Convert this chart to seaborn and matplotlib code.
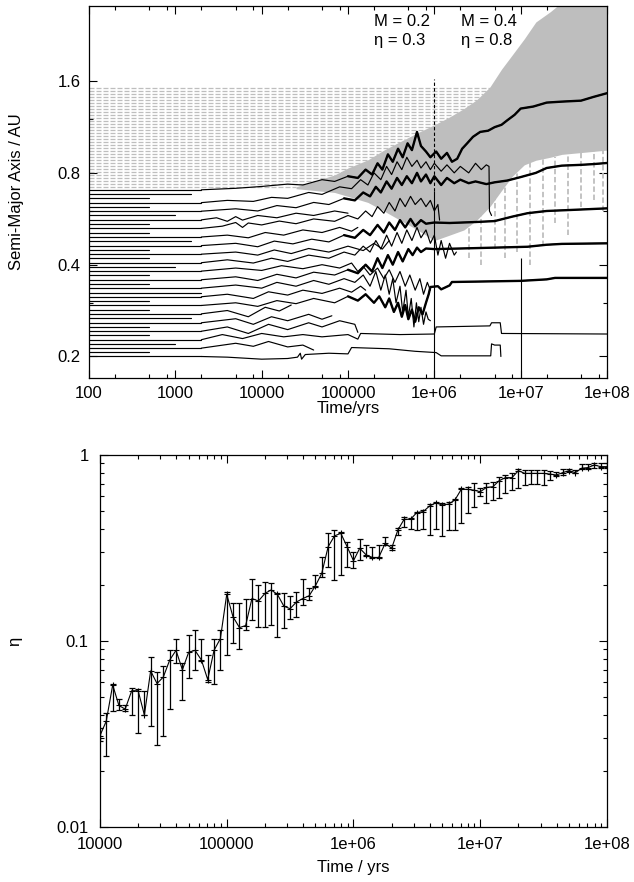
import numpy as np
import pandas as pd
import matplotlib
matplotlib.use('Agg')
import matplotlib.pyplot as plt
import matplotlib.ticker as mticker
import seaborn as sns

# ---------------- top panel: semi-major axis tracks ----------------
# starting semi-major axes of the inner (black) bodies and when their flat start ends
init_a = [0.200, 0.207, 0.213, 0.220, 0.227, 0.235, 0.242, 0.250, 0.258, 0.267,
          0.276, 0.285, 0.294, 0.304, 0.314, 0.324, 0.335, 0.346, 0.357, 0.369,
          0.381, 0.393, 0.406, 0.420, 0.433, 0.448, 0.462, 0.478, 0.493, 0.510,
          0.526, 0.544, 0.561, 0.580, 0.599, 0.619, 0.639, 0.660, 0.682, 0.704]
init_end = [2000, 500, 2000, 1000, 2000, 500, 2000, 500, 2000, 1500,
            2000, 500, 2000, 500, 2000, 2000, 2000, 500, 2000, 500,
            2000, 1000, 2000, 500, 2000, 500, 2000, 1500, 2000, 500,
            2000, 500, 2000, 1000, 2000, 500, 2000, 500, 1500, 2000]

# outer (grey, dashed) bodies and when they vanish into the grey cloud
gray_a = [0.720, 0.737, 0.753, 0.771, 0.788, 0.806, 0.825, 0.844, 0.863, 0.883,
          0.903, 0.924, 0.945, 0.967, 0.989, 1.012, 1.035, 1.059, 1.083, 1.108,
          1.133, 1.159, 1.186, 1.213, 1.241, 1.270, 1.299, 1.329, 1.359, 1.390,
          1.422, 1.455, 1.488, 1.522]
gray_end = [2.5e4, 3.3e4, 4.2e4, 5.5e4, 7e4, 9e4, 1.05e5, 1.25e5, 1.45e5, 1.7e5,
            2e5, 2.25e5, 2.55e5, 2.9e5, 3.4e5, 4e5, 4.6e5, 5.4e5, 6.4e5, 7.7e5,
            9e5, 1.05e6, 1.25e6, 1.45e6, 1.65e6, 1.9e6, 2.2e6, 2.5e6, 2.8e6, 3.1e6,
            3.4e6, 3.7e6, 4e6, 4.4e6]

# envelope of the scattered grey bodies
cloud_t = [2.5e4, 4.2e4, 7e4, 1e5, 1.7e5, 2.6e5, 4e5, 6.4e5, 1e6, 1.5e6,
           2.2e6, 3.1e6, 4.4e6, 6e6, 8e6, 1.1e7, 1.5e7, 2.2e7, 3e7, 1e8]
cloud_hi = [0.72, 0.753, 0.788, 0.83, 0.883, 0.95, 1.012, 1.083, 1.15, 1.22,
            1.30, 1.39, 1.53, 1.75, 1.95, 2.2, 2.5, 2.7, 2.9, 2.9]
cloud_lo = [0.71, 0.70, 0.69, 0.67, 0.64, 0.60, 0.56, 0.52, 0.48, 0.50,
            0.52, 0.56, 0.62, 0.70, 0.78, 0.85, 0.88, 0.90, 0.92, 0.95]
spike_t = [2.5e6, 3.5e6, 5e6, 6.5e6, 9e6, 1.3e7, 1.8e7, 2.5e7, 3.5e7, 5e7, 7e7, 9e7]
spike_lo = [0.42, 0.40, 0.45, 0.42, 0.44, 0.40, 0.46, 0.55, 0.50, 0.62, 0.65, 0.60]
spike_hi = [0.60, 0.65, 0.70, 0.80, 0.85, 0.90, 0.90, 0.90, 0.95, 0.95, 1.00, 1.00]

# ejections
eject_t = [1e6, 1e7]
eject_top = [0.70, 0.42]

# surviving black bodies, (time, a) waypoints
track_s00 = [(2e3, 0.200), (4e3, 0.199), (1e4, 0.196), (2e4, 0.197), (2.6e4, 0.199), (2.8e4, 0.205),
             (2.9e4, 0.196), (3.2e4, 0.203), (6e4, 0.205), (1e5, 0.204), (1.1e5, 0.214), (3e5, 0.212),
             (6e5, 0.208), (1.05e6, 0.206), (1.2e6, 0.201), (4.5e6, 0.201), (4.6e6, 0.22), (5e6, 0.218),
             (5.8e6, 0.218), (5.9e6, 0.200)]
track_s01 = [(2e3, 0.213), (5e3, 0.221), (8e3, 0.216), (1.2e4, 0.224), (2e4, 0.215), (3e4, 0.218), (4e4, 0.210)]
track_s02 = [(2e3, 0.227), (3.5e3, 0.236), (6e3, 0.229), (1e4, 0.238), (1.8e4, 0.232), (3e4, 0.236),
             (5e4, 0.232), (1e5, 0.236), (1.3e5, 0.228), (1.4e5, 0.238), (4e5, 0.236), (1e6, 0.237),
             (1.05e6, 0.250), (4.4e6, 0.252), (4.6e6, 0.258), (5.8e6, 0.258), (6e6, 0.238), (1e8, 0.237)]
track_s03 = [(2e3, 0.242), (4e3, 0.250), (7e3, 0.238), (1.2e4, 0.255), (2e4, 0.245), (3.5e4, 0.258),
             (5e4, 0.250), (8e4, 0.262), (1.2e5, 0.255), (1.3e5, 0.240)]
track_s04 = [(2e3, 0.258), (5e3, 0.266), (8e3, 0.255), (1.3e4, 0.270), (2e4, 0.262), (3.5e4, 0.275),
             (5e4, 0.265), (6.5e4, 0.272)]
track_s05 = [(2e3, 0.276), (4e3, 0.283), (7e3, 0.270), (1.1e4, 0.290), (1.6e4, 0.282), (2.2e4, 0.295)]
track_s06 = [(2e3, 0.294), (5e3, 0.300), (9e3, 0.292), (1.5e4, 0.305), (2.5e4, 0.298), (4e4, 0.310),
             (7e4, 0.300), (1e5, 0.315), (1.3e5, 0.305), (1.6e5, 0.320), (2e5, 0.300), (2.3e5, 0.315),
             (2.7e5, 0.290), (3e5, 0.310), (3.4e5, 0.280), (3.8e5, 0.300), (4.2e5, 0.270), (4.6e5, 0.295),
             (5e5, 0.265), (5.5e5, 0.285), (6e5, 0.260), (6.6e5, 0.290), (7.3e5, 0.275), (8e5, 0.300),
             (8.6e5, 0.320), (9e5, 0.338), (1.1e6, 0.340), (1.2e6, 0.332), (1.5e6, 0.342), (1.6e6, 0.351),
             (3e6, 0.352), (1e7, 0.354), (2e7, 0.358), (2.5e7, 0.362), (1e8, 0.362)]
track_s07 = [(2e3, 0.314), (4e3, 0.320), (8e3, 0.310), (1.2e4, 0.326), (2e4, 0.318), (3e4, 0.330),
             (5e4, 0.322), (8e4, 0.335), (1.1e5, 0.325), (1.4e5, 0.340), (1.6e5, 0.330)]
track_s08 = [(2e3, 0.335), (5e3, 0.343), (1e4, 0.335), (1.5e4, 0.350), (2.5e4, 0.340), (4e4, 0.355),
             (6e4, 0.345), (9e4, 0.360), (1.2e5, 0.350), (1.5e5, 0.370), (1.8e5, 0.340), (2.1e5, 0.380),
             (2.4e5, 0.330), (2.7e5, 0.370), (3e5, 0.320), (3.3e5, 0.360), (3.6e5, 0.300), (4e5, 0.340),
             (4.3e5, 0.280), (4.7e5, 0.330), (5e5, 0.270), (5.4e5, 0.310), (5.8e5, 0.250), (6.2e5, 0.300),
             (6.6e5, 0.260), (7e5, 0.290), (7.5e5, 0.255), (8e5, 0.280), (8.5e5, 0.265), (9e5, 0.262)]
track_s09 = [(2e3, 0.357), (5e3, 0.365), (9e3, 0.355), (1.5e4, 0.372), (2.5e4, 0.362), (4e4, 0.378),
             (7e4, 0.370), (1e5, 0.385), (1.3e5, 0.375), (1.6e5, 0.400), (1.9e5, 0.380), (2.2e5, 0.420),
             (2.5e5, 0.390), (2.9e5, 0.430), (3.3e5, 0.400), (3.8e5, 0.440), (4.3e5, 0.410), (5e5, 0.450),
             (5.6e5, 0.430), (6.3e5, 0.455), (7e5, 0.440), (8e5, 0.452), (1e6, 0.450), (2e6, 0.452),
             (5e6, 0.455), (1.2e7, 0.458), (2e7, 0.465), (3e7, 0.468), (1e8, 0.470)]
track_s10 = [(2e3, 0.381), (5e3, 0.390), (1e4, 0.383), (1.7e4, 0.397), (3e4, 0.388), (5e4, 0.400),
             (8e4, 0.390), (1.1e5, 0.405), (1.3e5, 0.380), (1.5e5, 0.395), (1.8e5, 0.370), (2.2e5, 0.390),
             (2.6e5, 0.360), (3e5, 0.385), (3.5e5, 0.350), (4e5, 0.380), (4.6e5, 0.340), (5.2e5, 0.370),
             (6e5, 0.330), (6.8e5, 0.360), (7.5e5, 0.320), (8.3e5, 0.350), (9e5, 0.330)]
track_s11 = [(2e3, 0.406), (4e3, 0.415), (8e3, 0.405), (1.3e4, 0.420), (2e4, 0.410), (3.5e4, 0.430),
             (6e4, 0.420), (9e4, 0.440), (1.2e5, 0.430), (1.5e5, 0.460), (1.8e5, 0.440), (2.1e5, 0.480),
             (2.4e5, 0.450), (2.8e5, 0.500), (3.2e5, 0.460), (3.7e5, 0.510), (4.2e5, 0.470), (4.8e5, 0.520),
             (5.5e5, 0.480), (6.3e5, 0.530), (7e5, 0.490), (8e5, 0.520), (9e5, 0.470), (1e6, 0.500),
             (1.1e6, 0.430), (1.2e6, 0.480), (1.35e6, 0.420), (1.5e6, 0.470), (1.7e6, 0.430), (1.8e6, 0.440)]
track_s12 = [(2e3, 0.433), (5e3, 0.440), (9e3, 0.430), (1.4e4, 0.447), (2.2e4, 0.435), (3.5e4, 0.452),
             (6e4, 0.440), (1e5, 0.460), (1.5e5, 0.445), (2e5, 0.470), (2.5e5, 0.450), (3e5, 0.480)]
track_s13 = [(2e3, 0.462), (5e3, 0.470), (9e3, 0.458), (1.4e4, 0.478), (2.3e4, 0.468), (3.8e4, 0.485),
             (6e4, 0.475), (9e4, 0.500), (1.2e5, 0.490), (1.5e5, 0.520), (1.8e5, 0.500), (2.2e5, 0.540),
             (2.6e5, 0.510), (3e5, 0.550), (3.5e5, 0.520), (4e5, 0.560), (4.6e5, 0.530), (5.3e5, 0.565),
             (6e5, 0.535), (7e5, 0.560), (8e5, 0.545), (1e6, 0.550), (1.5e6, 0.548), (3e6, 0.552),
             (5e6, 0.556), (8e6, 0.575), (1.2e7, 0.590), (2e7, 0.600), (4e7, 0.605), (1e8, 0.612)]
track_s14 = [(2e3, 0.493), (4e3, 0.500), (7e3, 0.490), (1.1e4, 0.510), (1.8e4, 0.500), (3e4, 0.520),
             (5e4, 0.510), (8e4, 0.530), (1.1e5, 0.515), (1.3e5, 0.530)]
track_s15 = [(2e3, 0.526), (3.5e3, 0.535), (5e3, 0.550), (6e3, 0.530), (7e3, 0.548), (1e4, 0.540),
             (1.6e4, 0.556), (2.5e4, 0.545), (4e4, 0.565), (7e4, 0.555), (1e5, 0.580), (1.3e5, 0.565),
             (1.6e5, 0.600), (1.9e5, 0.575), (2.2e5, 0.620), (2.6e5, 0.590), (3e5, 0.640), (3.5e5, 0.600),
             (4e5, 0.660), (4.6e5, 0.620), (5.3e5, 0.670), (6e5, 0.630), (7e5, 0.660), (8e5, 0.620),
             (9e5, 0.650), (1e6, 0.600), (1.1e6, 0.630), (1.15e6, 0.560)]
track_s16 = [(2e3, 0.561), (3e3, 0.570), (4e3, 0.555), (5e3, 0.575), (6e3, 0.560), (9e3, 0.580),
             (1.5e4, 0.570), (2.5e4, 0.590), (4e4, 0.580), (7e4, 0.600), (1e5, 0.590)]
track_s17 = [(2e3, 0.599), (5e3, 0.610), (9e3, 0.600), (1.5e4, 0.625), (2.5e4, 0.615), (4e4, 0.640),
             (6e4, 0.630), (9e4, 0.660), (1.2e5, 0.650), (1.5e5, 0.690), (1.8e5, 0.670), (2.1e5, 0.720),
             (2.4e5, 0.690), (2.8e5, 0.750), (3.2e5, 0.710), (3.7e5, 0.770), (4.2e5, 0.730), (4.8e5, 0.780),
             (5.5e5, 0.740), (6.3e5, 0.800), (7e5, 0.750), (8e5, 0.790), (9e5, 0.740), (1e6, 0.780),
             (1.2e6, 0.730), (1.4e6, 0.770), (1.7e6, 0.740), (2e6, 0.760), (2.5e6, 0.740), (3e6, 0.750),
             (4e6, 0.735), (5e6, 0.745), (7e6, 0.755), (1e7, 0.775), (1.5e7, 0.800), (2e7, 0.830),
             (3e7, 0.845), (5e7, 0.850), (7e7, 0.855), (1e8, 0.862)]
track_s18 = [(2e3, 0.639), (4e3, 0.650), (8e3, 0.645), (1.3e4, 0.665), (2e4, 0.660), (3.5e4, 0.690),
             (5e4, 0.680), (8e4, 0.720), (1.1e5, 0.710), (1.4e5, 0.760), (1.7e5, 0.730), (2e5, 0.800),
             (2.4e5, 0.760), (2.8e5, 0.840), (3.2e5, 0.790), (3.7e5, 0.870), (4.2e5, 0.820), (4.8e5, 0.900),
             (5.5e5, 0.840), (6.3e5, 0.880), (7e5, 0.830), (8e5, 0.870), (9e5, 0.820), (1e6, 0.860),
             (1.2e6, 0.810), (1.4e6, 0.850), (1.7e6, 0.800), (2e6, 0.840), (2.5e6, 0.800), (3e6, 0.860),
             (3.5e6, 0.820), (4e6, 0.850), (4.3e6, 0.840), (4.35e6, 0.600), (4.6e6, 0.580)]
track_s19 = [(2e3, 0.704), (5e3, 0.712), (1e4, 0.722), (2e4, 0.735), (3e4, 0.730), (5e4, 0.760),
             (7e4, 0.750), (1e5, 0.780), (1.3e5, 0.770), (1.6e5, 0.820), (1.9e5, 0.790), (2.2e5, 0.860),
             (2.5e5, 0.820), (2.9e5, 0.920), (3.3e5, 0.870), (3.8e5, 0.960), (4.3e5, 0.900), (4.9e5, 1.000),
             (5.5e5, 0.950), (6.3e5, 1.090), (7e5, 0.980), (8e5, 0.940), (9e5, 0.900), (1.05e6, 0.940),
             (1.2e6, 0.890), (1.4e6, 0.930), (1.6e6, 0.870), (1.84e6, 0.890), (2.1e6, 0.960), (2.4e6, 1.000),
             (2.8e6, 1.050), (3.4e6, 1.090), (4.2e6, 1.100), (5e6, 1.130), (6e6, 1.150), (7e6, 1.190),
             (8.5e6, 1.240), (1e7, 1.300), (1.4e7, 1.320), (2e7, 1.360), (3e7, 1.370), (5e7, 1.380),
             (7e7, 1.420), (1e8, 1.460)]

tracks = [track_s00, track_s01, track_s02, track_s03, track_s04, track_s05, track_s06, track_s07,
          track_s08, track_s09, track_s10, track_s11, track_s12, track_s13, track_s14, track_s15,
          track_s16, track_s17, track_s18, track_s19]
thick_ids = [6, 9, 13, 17, 19]

top_xticks = [1e2, 1e3, 1e4, 1e5, 1e6, 1e7, 1e8]
top_xlabels = ['100', '1000', '10000', '100000', '1e+06', '1e+07', '1e+08']
top_yticks = [0.2, 0.4, 0.8, 1.6]
top_ylabels = ['0.2', '0.4', '0.8', '1.6']

# ---------------- bottom panel: eta(t) with error bars ----------------
time_yrs = [1.00e4, 1.12e4, 1.26e4, 1.41e4, 1.58e4, 1.78e4, 2.00e4, 2.24e4, 2.51e4, 2.82e4,
            3.16e4, 3.55e4, 3.98e4, 4.47e4, 5.01e4, 5.62e4, 6.31e4, 7.08e4, 7.94e4, 8.91e4,
            1.00e5, 1.12e5, 1.26e5, 1.41e5, 1.58e5, 1.78e5, 2.00e5, 2.24e5, 2.51e5, 2.82e5,
            3.16e5, 3.55e5, 3.98e5, 4.47e5, 5.01e5, 5.62e5, 6.31e5, 7.08e5, 7.94e5, 8.91e5,
            1.00e6, 1.12e6, 1.26e6, 1.41e6, 1.58e6, 1.78e6, 2.00e6, 2.24e6, 2.51e6, 2.82e6,
            3.16e6, 3.55e6, 3.98e6, 4.47e6, 5.01e6, 5.62e6, 6.31e6, 7.08e6, 7.94e6, 8.91e6,
            1.00e7, 1.12e7, 1.26e7, 1.41e7, 1.58e7, 1.78e7, 2.00e7, 2.24e7, 2.51e7, 2.82e7,
            3.16e7, 3.55e7, 3.98e7, 4.47e7, 5.01e7, 5.62e7, 6.31e7, 7.08e7, 7.94e7, 8.91e7,
            1.00e8]
eta = [0.031, 0.037, 0.058, 0.045, 0.043, 0.054, 0.054, 0.040, 0.069, 0.059,
       0.064, 0.079, 0.089, 0.070, 0.087, 0.089, 0.079, 0.062, 0.089, 0.103,
       0.178, 0.135, 0.118, 0.121, 0.169, 0.164, 0.180, 0.188, 0.178, 0.154,
       0.149, 0.162, 0.169, 0.175, 0.198, 0.231, 0.321, 0.367, 0.379, 0.321,
       0.270, 0.315, 0.290, 0.281, 0.281, 0.335, 0.315, 0.395, 0.451, 0.451,
       0.490, 0.496, 0.531, 0.553, 0.538, 0.544, 0.572, 0.653, 0.653, 0.647,
       0.634, 0.669, 0.675, 0.727, 0.755, 0.755, 0.823, 0.796, 0.796, 0.796,
       0.796, 0.789, 0.780, 0.803, 0.823, 0.803, 0.848, 0.855, 0.883, 0.865,
       0.865]
eta_lo = [0.029, 0.024, 0.042, 0.0425, 0.042, 0.040, 0.032, 0.040, 0.035, 0.0275,
          0.031, 0.043, 0.076, 0.048, 0.063, 0.070, 0.078, 0.060, 0.059, 0.070,
          0.084, 0.097, 0.091, 0.114, 0.130, 0.119, 0.119, 0.122, 0.105, 0.117,
          0.132, 0.135, 0.156, 0.165, 0.196, 0.221, 0.251, 0.213, 0.226, 0.251,
          0.246, 0.272, 0.285, 0.278, 0.278, 0.328, 0.308, 0.371, 0.411, 0.398,
          0.395, 0.398, 0.371, 0.398, 0.366, 0.395, 0.395, 0.433, 0.485, 0.527,
          0.601, 0.549, 0.572, 0.584, 0.622, 0.647, 0.661, 0.689, 0.695, 0.695,
          0.689, 0.733, 0.771, 0.780, 0.813, 0.796, 0.837, 0.837, 0.848, 0.848,
          0.848]
eta_hi = [0.034, 0.041, 0.059, 0.0485, 0.045, 0.056, 0.055, 0.054, 0.082, 0.068,
          0.073, 0.089, 0.103, 0.076, 0.108, 0.115, 0.102, 0.084, 0.102, 0.115,
          0.184, 0.160, 0.160, 0.169, 0.214, 0.200, 0.208, 0.206, 0.180, 0.180,
          0.175, 0.184, 0.214, 0.192, 0.226, 0.284, 0.382, 0.395, 0.386, 0.342,
          0.302, 0.352, 0.328, 0.321, 0.328, 0.364, 0.328, 0.403, 0.462, 0.456,
          0.492, 0.506, 0.544, 0.561, 0.549, 0.561, 0.577, 0.661, 0.669, 0.703,
          0.661, 0.703, 0.718, 0.758, 0.780, 0.796, 0.837, 0.830, 0.830, 0.830,
          0.830, 0.823, 0.813, 0.837, 0.837, 0.830, 0.894, 0.894, 0.909, 0.909,
          0.909]
bot_xticks = [1e4, 1e5, 1e6, 1e7, 1e8]
bot_xlabels = ['10000', '100000', '1e+06', '1e+07', '1e+08']
bot_yticks = [0.01, 0.1, 1]
bot_ylabels = ['0.01', '0.1', '1']

# ---------------- style ----------------
sns.set_theme(style='ticks')
plt.rcParams['font.family'] = ['Liberation Sans', 'DejaVu Sans']
plt.rcParams['axes.edgecolor'] = 'black'
plt.rcParams['axes.labelcolor'] = 'black'
plt.rcParams['text.color'] = 'black'
plt.rcParams['xtick.color'] = 'black'
plt.rcParams['ytick.color'] = 'black'
plt.rcParams['axes.linewidth'] = 0.9
grey = '#bebebe'
fs = 12

fig = plt.figure(figsize=(6.34, 8.82), dpi=100)
ax1 = fig.add_axes([0.1404, 0.5714, 0.8170, 0.4218])
ax2 = fig.add_axes([0.1577, 0.0624, 0.7997, 0.4218])

# ---- top ----
ax1.set_xscale('log')
ax1.set_yscale('log')

rows = []
for i, (a0, te) in enumerate(zip(gray_a, gray_end)):
    rows += [(i, 100, a0), (i, te, a0)]
gray_df = pd.DataFrame(rows, columns=['body', 't', 'a'])

rows = []
for i, (a0, te) in enumerate(zip(init_a, init_end)):
    rows += [(i, 100, a0), (i, te, a0)]
early_df = pd.DataFrame(rows, columns=['body', 't', 'a'])

rows = []
for i, tr in enumerate(tracks):
    for t, a in tr:
        rows.append((i, t, a, i in thick_ids))
trk_df = pd.DataFrame(rows, columns=['body', 't', 'a', 'thick'])
thick_df = trk_df[trk_df['thick'] & (trk_df['t'] >= 8e4)]

ax1.fill_between(cloud_t, cloud_lo, cloud_hi, color=grey, lw=0, zorder=1)
sns.lineplot(data=gray_df, x='t', y='a', units='body', estimator=None, sort=False,
             color=grey, lw=0.9, linestyle=(0, (4, 1.6)), ax=ax1, zorder=1.5)
ax1.vlines(spike_t, spike_lo, spike_hi, colors=grey, lw=1.3, linestyles=(0, (3, 1.5)), zorder=1.5)
sns.lineplot(data=early_df, x='t', y='a', units='body', estimator=None, sort=False,
             color='black', lw=0.85, ax=ax1, zorder=3)
sns.lineplot(data=trk_df, x='t', y='a', units='body', estimator=None, sort=False,
             color='black', lw=0.85, ax=ax1, zorder=3)
sns.lineplot(data=thick_df, x='t', y='a', units='body', estimator=None, sort=False,
             color='black', lw=1.7, ax=ax1, zorder=3)
ax1.vlines(eject_t, 0.1, eject_top, colors='black', lw=0.8, zorder=3)
ax1.vlines([1e6], 0.70, 1.62, colors='black', lw=0.8, linestyles=(0, (3, 2)), zorder=3)

ax1.set_xlim(100, 1e8)
ax1.set_ylim(0.17, 2.82)
ax1.set_xticks(top_xticks, top_xlabels)
ax1.set_yticks(top_yticks, top_ylabels)
ax1.xaxis.set_minor_locator(mticker.LogLocator(base=10, subs=(2, 5, 8)))
ax1.xaxis.set_minor_formatter(mticker.NullFormatter())
ax1.yaxis.set_minor_locator(mticker.FixedLocator([0.3, 0.6, 1.2]))
ax1.yaxis.set_minor_formatter(mticker.NullFormatter())
ax1.set_xlabel('Time/yrs', fontsize=fs)
ax1.set_ylabel('Semi-Major Axis / AU', fontsize=fs)
ax1.xaxis.set_label_coords(0.5, -0.062)
ax1.yaxis.set_label_coords(-0.125, 0.5)
ax1.tick_params(axis='x', which='major', pad=6)
ax1.tick_params(axis='y', which='major', pad=6)

ax1.text(0.550, 0.958, 'M = 0.2', transform=ax1.transAxes, fontsize=fs, va='center', ha='left', zorder=5)
ax1.text(0.718, 0.958, 'M = 0.4', transform=ax1.transAxes, fontsize=fs, va='center', ha='left', zorder=5)
ax1.text(0.550, 0.906, 'η = 0.3', transform=ax1.transAxes, fontsize=fs, va='center', ha='left', zorder=5)
ax1.text(0.718, 0.906, 'η = 0.8', transform=ax1.transAxes, fontsize=fs, va='center', ha='left', zorder=5)

# ---- bottom ----
ax2.set_xscale('log')
ax2.set_yscale('log')
eta_arr = np.array(eta)
yerr = [eta_arr - np.array(eta_lo), np.array(eta_hi) - eta_arr]
ax2.errorbar(time_yrs, eta, yerr=yerr, fmt='none', ecolor='black', elinewidth=0.9,
             capsize=2.3, capthick=0.9, zorder=2)
sns.lineplot(x=time_yrs, y=eta, color='black', lw=0.8, marker='+', markersize=4,
             markeredgewidth=0.8, markeredgecolor='black', estimator=None, sort=False, ax=ax2, zorder=3)
ax2.set_xlim(1e4, 1e8)
ax2.set_ylim(0.01, 1)
ax2.set_xticks(bot_xticks, bot_xlabels)
ax2.set_yticks(bot_yticks, bot_ylabels)
ax2.xaxis.set_minor_locator(mticker.LogLocator(base=10, subs=np.arange(2, 10)))
ax2.xaxis.set_minor_formatter(mticker.NullFormatter())
ax2.yaxis.set_minor_locator(mticker.LogLocator(base=10, subs=np.arange(2, 10)))
ax2.yaxis.set_minor_formatter(mticker.NullFormatter())
ax2.set_xlabel('Time / yrs', fontsize=fs)
ax2.set_ylabel('η', fontsize=fs)
ax2.xaxis.set_label_coords(0.5, -0.088)
ax2.yaxis.set_label_coords(-0.154, 0.5)
ax2.tick_params(axis='x', which='major', pad=7)
ax2.tick_params(axis='y', which='major', pad=8)

for ax in (ax1, ax2):
    ax.tick_params(which='both', direction='in', top=True, right=True, colors='black',
                   labelsize=fs, width=0.8)
    ax.tick_params(which='major', length=6)
    ax.tick_params(which='minor', length=3)
    for s in ax.spines.values():
        s.set_visible(True)
        s.set_zorder(6)
    ax.grid(False)

fig.savefig('out.png', dpi=100)
